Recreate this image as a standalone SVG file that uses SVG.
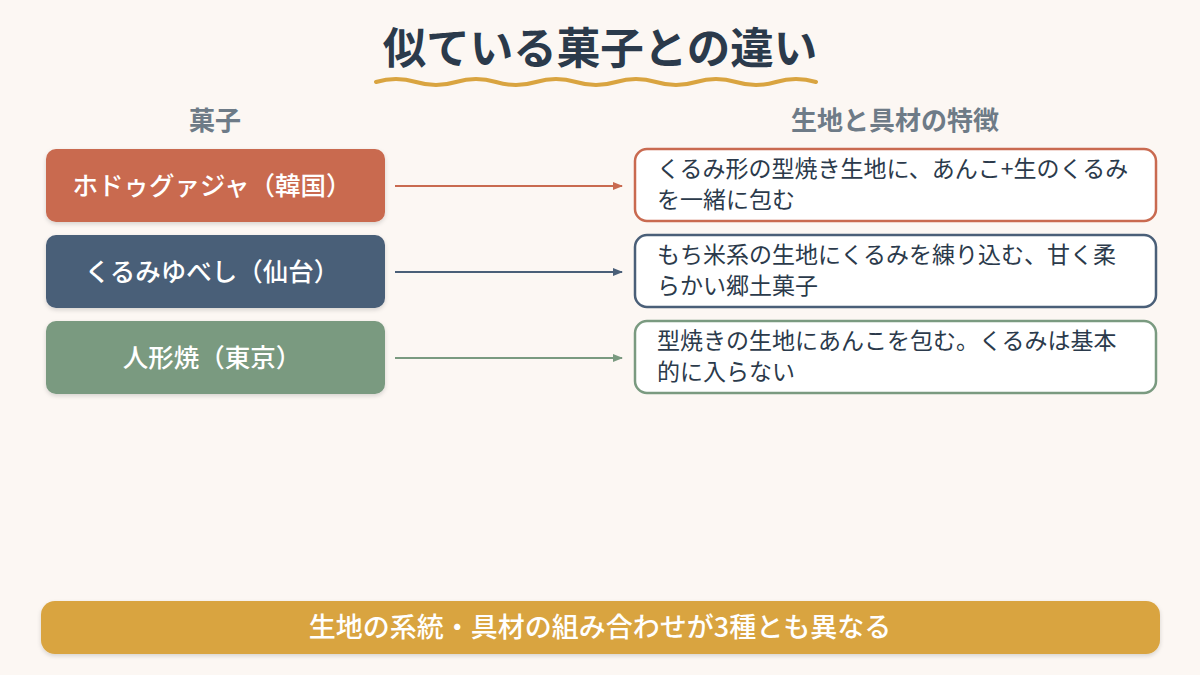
<svg xmlns="http://www.w3.org/2000/svg" width="1200" height="675" viewBox="0 0 1200 675">
<defs>
<style>
text{font-family:"Noto Sans CJK JP","Noto Sans",sans-serif}
.title{font-size:43.5px;font-weight:700;fill:#2b3a4b}
.hdr{font-size:26px;font-weight:700;fill:#6e7b87}
.lbl{font-size:25.5px;font-weight:500;fill:#ffffff}
.desc{font-size:23px;font-weight:400;fill:#2b3a4b}
.foot{font-size:27px;font-weight:500;fill:#ffffff}
.card{fill:#ffffff;stroke-width:2.5}
</style>
<filter id="sh" x="-10%" y="-20%" width="120%" height="150%">
<feDropShadow dx="0" dy="2" stdDeviation="2" flood-color="#000" flood-opacity="0.15"/>
</filter>
<marker id="a1" markerWidth="10" markerHeight="10" refX="9" refY="5" orient="auto" markerUnits="userSpaceOnUse"><path d="M0,1 L10,5 L0,9 Z" fill="#c96a50"/></marker>
<marker id="a2" markerWidth="10" markerHeight="10" refX="9" refY="5" orient="auto" markerUnits="userSpaceOnUse"><path d="M0,1 L10,5 L0,9 Z" fill="#4a5f78"/></marker>
<marker id="a3" markerWidth="10" markerHeight="10" refX="9" refY="5" orient="auto" markerUnits="userSpaceOnUse"><path d="M0,1 L10,5 L0,9 Z" fill="#7a9a80"/></marker>
</defs>
<rect width="1200" height="675" fill="#fcf7f3"/>
<g id="title">
<text class="title" x="600" y="64" text-anchor="middle">似ている菓子との違い</text>
<path d="M376,82 Q396,76 416,82 T456,82 T496,82 T536,82 T576,82 T616,82 T656,82 T696,82 T736,82 T776,82 T816,82" fill="none" stroke="#d9a440" stroke-width="4" stroke-linecap="round"/>
</g>
<g id="headers">
<text class="hdr" x="215" y="130" text-anchor="middle">菓子</text>
<text class="hdr" x="895" y="130" text-anchor="middle">生地と具材の特徴</text>
</g>
<g id="connectors">
<line x1="395" y1="186" x2="622" y2="186" stroke="#c96a50" stroke-width="2" marker-end="url(#a1)"/>
<line x1="395" y1="272" x2="622" y2="272" stroke="#4a5f78" stroke-width="2" marker-end="url(#a2)"/>
<line x1="395" y1="358" x2="622" y2="358" stroke="#7a9a80" stroke-width="2" marker-end="url(#a3)"/>
</g>
<g id="node-hodugwaja">
<rect x="46" y="149" width="339" height="73" rx="10" fill="#c96a50" filter="url(#sh)"/>
<text class="lbl" x="212" y="195" text-anchor="middle">ホドゥグァジャ（韓国）</text>
</g>
<g id="node-kurumiyubeshi">
<rect x="46" y="235" width="339" height="73" rx="10" fill="#4a5f78" filter="url(#sh)"/>
<text class="lbl" x="212" y="281" text-anchor="middle">くるみゆべし（仙台）</text>
</g>
<g id="node-ningyoyaki">
<rect x="46" y="321" width="339" height="73" rx="10" fill="#7a9a80" filter="url(#sh)"/>
<text class="lbl" x="212" y="367" text-anchor="middle">人形焼（東京）</text>
</g>
<g id="desc-hodugwaja">
<rect class="card" x="635" y="149" width="521" height="72" rx="12" stroke="#c96a50"/>
<text class="desc" x="657" y="177">くるみ形の型焼き生地に、あんこ+生のくるみ</text>
<text class="desc" x="657" y="208">を一緒に包む</text>
</g>
<g id="desc-kurumiyubeshi">
<rect class="card" x="635" y="235" width="521" height="72" rx="12" stroke="#4a5f78"/>
<text class="desc" x="657" y="263">もち米系の生地にくるみを練り込む、甘く柔</text>
<text class="desc" x="657" y="294">らかい郷土菓子</text>
</g>
<g id="desc-ningyoyaki">
<rect class="card" x="635" y="321" width="521" height="72" rx="12" stroke="#7a9a80"/>
<text class="desc" x="657" y="349">型焼きの生地にあんこを包む。くるみは基本</text>
<text class="desc" x="657" y="380">的に入らない</text>
</g>
<g id="footer">
<rect x="41" y="601" width="1119" height="53" rx="14" fill="#d9a440" filter="url(#sh)"/>
<text class="foot" x="600" y="637" text-anchor="middle">生地の系統・具材の組み合わせが3種とも異なる</text>
</g>
</svg>
